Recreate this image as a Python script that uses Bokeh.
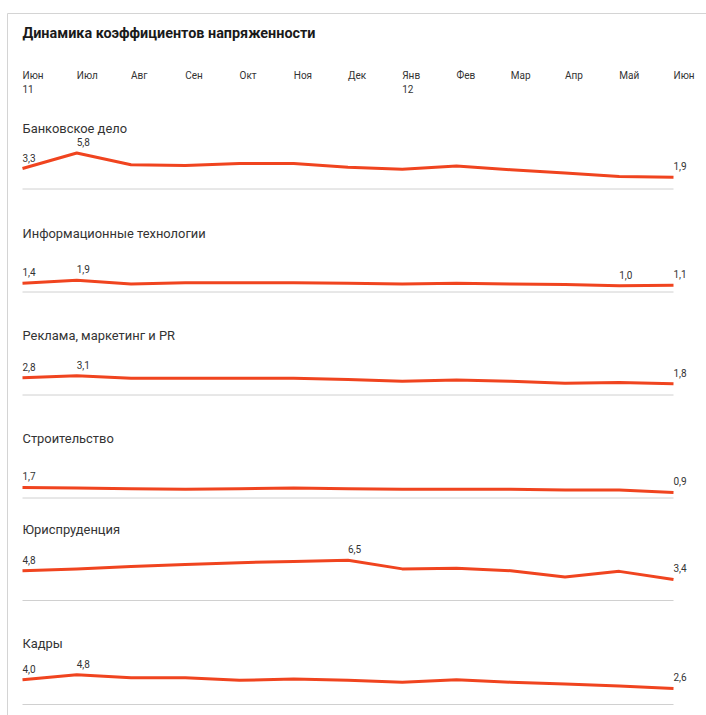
from bokeh.plotting import figure
from bokeh.models import Range1d
from bokeh.embed import file_html
from bokeh.resources import INLINE
from bokeh.core.properties import value
import numpy as np

# ---------------- data ----------------
chart_title = "Динамика коэффициентов напряженности"
months = ["Июн", "Июл", "Авг", "Сен", "Окт", "Ноя", "Дек",
          "Янв", "Фев", "Мар", "Апр", "Май", "Июн"]
years = ["11", "", "", "", "", "", "", "12", "", "", "", "", ""]

categories = ["Банковское дело", "Информационные технологии",
              "Реклама, маркетинг и PR", "Строительство",
              "Юриспруденция", "Кадры"]

banking = [3.3, 5.8, 3.9, 3.8, 4.1, 4.1, 3.5, 3.2, 3.7, 3.1, 2.6, 2.0, 1.9]
it_tech = [1.4, 1.9, 1.3, 1.5, 1.5, 1.5, 1.4, 1.3, 1.4, 1.3, 1.2, 1.0, 1.1]
marketing = [2.8, 3.1, 2.7, 2.7, 2.7, 2.7, 2.5, 2.2, 2.4, 2.2, 1.9, 2.0, 1.8]
construction = [1.7, 1.6, 1.5, 1.4, 1.5, 1.6, 1.5, 1.4, 1.4, 1.4, 1.3, 1.3, 0.9]
law = [4.8, 5.1, 5.5, 5.8, 6.1, 6.3, 6.5, 5.1, 5.2, 4.8, 3.8, 4.7, 3.4]
hr = [4.0, 4.8, 4.3, 4.3, 3.9, 4.1, 3.9, 3.6, 4.0, 3.6, 3.3, 3.0, 2.6]

series = [banking, it_tech, marketing, construction, law, hr]

# ---------------- layout ----------------
W, H = 706, 715
X0, X1 = 22, 673
STEP = (X1 - X0) / (len(months) - 1)
K = 6.2                                   # px per unit
baselines = [188.5, 291.5, 394.5, 497.5, 600, 704]
title_y = [128, 232.5, 334.5, 438, 528.5, 643]

FONT = value("Roboto")
TXT = "#333333"
RED = "#f0441f"

def px2x(px):
    return (px - X0) / STEP

p = figure(width=W, height=H, output_backend="svg", toolbar_location=None,
           x_range=Range1d(px2x(0), px2x(W)), y_range=Range1d(H, 0),
           min_border=0, outline_line_color=None, background_fill_color="white")
p.axis.visible = False
p.grid.visible = False

# frame lines
p.segment(x0=[px2x(7), px2x(7)], y0=[13, 13], x1=[px2x(W), px2x(7)], y1=[13, H],
          line_color="#d4d4d4", line_width=1)

# title
p.text(x=[0], y=[33], text=[chart_title], text_font=FONT, text_font_size="14.4px",
       text_font_style="bold", text_color="#1a1a1a", text_baseline="middle")

idx = list(range(len(months)))
p.text(x=idx, y=[75] * len(idx), text=months, text_font=FONT, text_font_size="10px",
       text_color=TXT, text_baseline="middle")
p.text(x=idx, y=[88] * len(idx), text=years, text_font=FONT, text_font_size="10px",
       text_color=TXT, text_baseline="middle")

for name, vals, base, ty in zip(categories, series, baselines, title_y):
    vals = np.array(vals)
    ys = base - vals * K
    p.text(x=[0], y=[ty], text=[name], text_font=FONT, text_font_size="12.9px",
           text_color=TXT, text_baseline="middle")
    p.segment(x0=[0], y0=[base], x1=[len(vals) - 1], y1=[base],
              line_color="#d0d0d0", line_width=1)
    p.line(x=idx, y=ys, line_color=RED, line_width=3, line_join="round")
    lab = sorted({0, int(np.argmax(vals)), int(np.argmin(vals)), len(vals) - 1})
    p.text(x=lab, y=[ys[i] - 11 for i in lab],
           text=[f"{vals[i]:.1f}".replace(".", ",") for i in lab],
           text_font=FONT, text_font_size="10px", text_color=TXT,
           text_baseline="middle")

open("out.html", "w").write(file_html(p, INLINE))
